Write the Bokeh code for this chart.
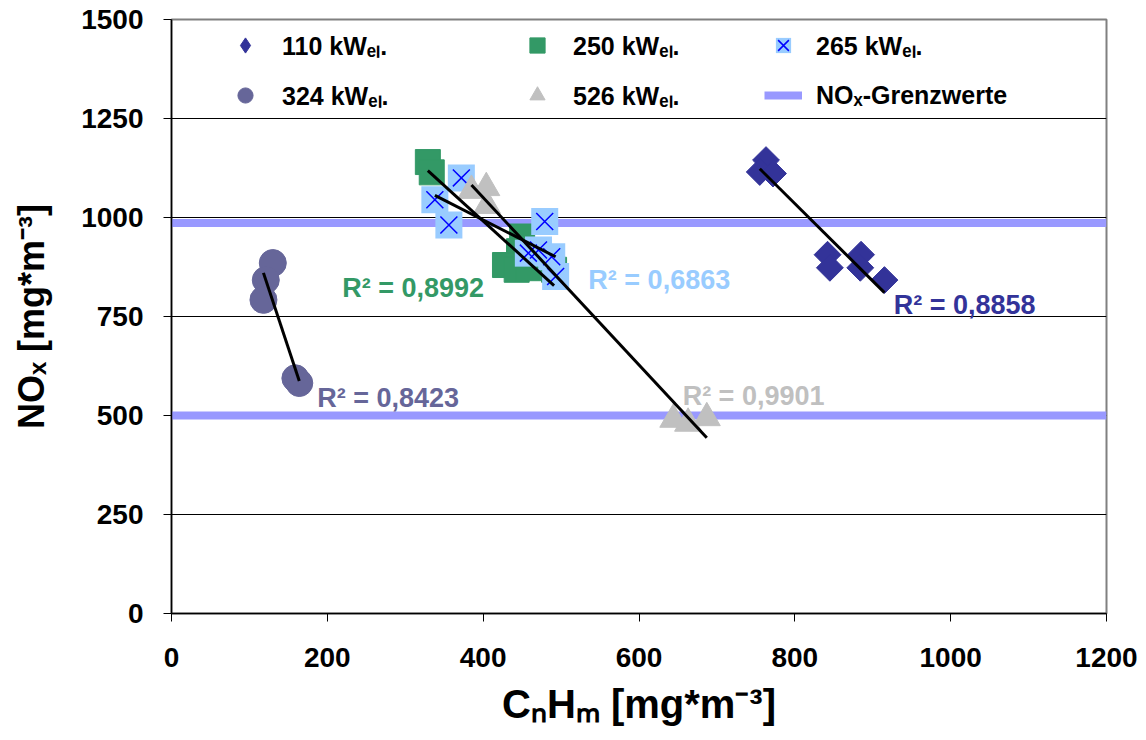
import numpy as np
from bokeh.plotting import figure
from bokeh.models import Legend, LegendItem, Label, Range1d, FixedTicker
from bokeh.embed import file_html
from bokeh.resources import INLINE

# ---------------- data ----------------
x_110 = [763, 755, 772, 842, 845, 885, 884, 915]
y_110 = [1145, 1115, 1111, 906, 873, 906, 873, 842]

x_250 = [329, 334, 450, 446, 428, 443, 458, 491]
y_250 = [1140, 1114, 952, 915, 880, 868, 872, 868]

x_265 = [372, 338, 356, 479, 471, 488, 493, 458]
y_265 = [1100, 1045, 981, 990, 918, 901, 851, 910]

x_324 = [130, 121, 118, 159, 164]
y_324 = [885, 842, 792, 594, 582]

x_526 = [385, 404, 405, 644, 663, 687]
y_526 = [1068, 1075, 1030, 490, 480, 494]

limits = [986, 500]

series_names = ["110 kWₑₗ.", "250 kWₑₗ.", "265 kWₑₗ.", "324 kWₑₗ.", "526 kWₑₗ."]
limit_name = "NOₓ-Grenzwerte"
r2_110, r2_250, r2_265, r2_324, r2_526 = "0,8858", "0,8992", "0,6863", "0,8423", "0,9901"

x_ticks = [0, 200, 400, 600, 800, 1000, 1200]
y_ticks = [0, 250, 500, 750, 1000, 1250, 1500]
x_title = "CₙHₘ [mg*m⁻³]"
y_title = "NOₓ [mg*m⁻³]"

# ---------------- style ----------------
FONT = "Liberation Sans"
C110, C250, C265F, C265X, C324, C526 = "#333399", "#339966", "#99CCFF", "#0000FF", "#666699", "#C0C0C0"
CLIM = "#9999FF"

p = figure(width=1140, height=738, output_backend="svg", toolbar_location=None,
           x_range=Range1d(x_ticks[0], x_ticks[-1]), y_range=Range1d(y_ticks[0], y_ticks[-1]),
           min_border_left=171, min_border_top=19, min_border_right=34, min_border_bottom=125)
p.background_fill_color = "white"
p.border_fill_color = "white"
p.outline_line_color = "#808080"
p.outline_line_width = 2

p.xgrid.grid_line_color = None
p.ygrid.grid_line_color = "black"
p.ygrid.grid_line_width = 1
p.ygrid.ticker = FixedTicker(ticks=y_ticks)
p.xaxis.ticker = FixedTicker(ticks=x_ticks)
p.yaxis.ticker = FixedTicker(ticks=y_ticks)

for ax in (p.xaxis, p.yaxis):
    ax.axis_line_color = "black"
    ax.axis_line_width = 1.5
    ax.major_tick_line_color = "black"
    ax.major_tick_out = 8
    ax.major_tick_in = 0
    ax.minor_tick_line_color = None
    ax.major_label_text_font = FONT
    ax.major_label_text_font_style = "bold"
    ax.major_label_text_font_size = "28px"
    ax.major_label_text_color = "black"
    ax.axis_label_text_font = FONT
    ax.axis_label_text_font_style = "bold"
    ax.axis_label_text_color = "black"

p.xaxis.axis_label = x_title
p.yaxis.axis_label = y_title
p.xaxis.axis_label_text_font_size = "40px"
p.yaxis.axis_label_text_font_size = "36px"
p.xaxis.major_label_standoff = 26
p.xaxis.axis_label_standoff = 12
p.yaxis.major_label_standoff = 20
p.yaxis.axis_label_standoff = 26

# limit lines
xs0 = [x_ticks[0]] * len(limits)
xs1 = [x_ticks[-1]] * len(limits)
r_lim = p.segment(x0=xs0, x1=xs1, y0=limits, y1=limits, line_color=CLIM, line_width=8)

# markers
r110 = p.scatter(x_110, y_110, marker="square", angle=np.pi / 4, size=19,
                 fill_color=C110, line_color=C110)
r110_leg = p.scatter(x_110, y_110, marker="diamond", size=19, fill_color=C110,
                     line_color=C110, visible=False)
r250 = p.scatter(x_250, y_250, marker="square", size=25, fill_color=C250, line_color=C250)
r265a = p.scatter(x_265, y_265, marker="square", size=27, fill_color=C265F, line_color=None)
r265b = p.scatter(x_265, y_265, marker="x", size=24, line_color=C265X, line_width=1.5)
r324 = p.scatter(x_324, y_324, marker="circle", size=27, fill_color=C324, line_color=C324)
r526 = p.scatter(x_526, y_526, marker="triangle", size=27, fill_color=C526, line_color=C526)

# trend lines (least squares from the data)
for xs, ys in [(x_324, y_324), (x_250, y_250), (x_265, y_265), (x_526, y_526), (x_110, y_110)]:
    k, d = np.polyfit(xs, ys, 1)
    xe = np.array([min(xs), max(xs)], dtype=float)
    p.line(xe, k * xe + d, line_color="black", line_width=3)

# R² labels
def r2(x, y, txt, col):
    p.add_layout(Label(x=x, y=y, text="R² = " + txt, text_color=col, text_font=FONT,
                       text_font_style="bold", text_font_size="27px",
                       text_baseline="alphabetic", text_align="left"))

r2(927, 778, r2_110, C110)
r2(219, 823, r2_250, C250)
r2(535, 841, r2_265, C265F)
r2(187, 543, r2_324, C324)
r2(656, 550, r2_526, C526)

# legends (three columns)
def make_legend(items, loc, standoff):
    lg = Legend(items=items, location=loc, orientation="vertical",
                glyph_width=38, glyph_height=40, spacing=10, padding=0, margin=0,
                label_standoff=standoff, border_line_color=None,
                background_fill_alpha=0.0, inactive_fill_alpha=0.0,
                label_text_font=FONT, label_text_font_style="bold",
                label_text_font_size="25px", label_text_color="black")
    p.add_layout(lg)

make_legend([LegendItem(label=series_names[0], renderers=[r110_leg]),
             LegendItem(label=series_names[3], renderers=[r324])], (55, 498), 18)
make_legend([LegendItem(label=series_names[1], renderers=[r250]),
             LegendItem(label=series_names[4], renderers=[r526])], (347, 498), 17)
make_legend([LegendItem(label=series_names[2], renderers=[r265a, r265b]),
             LegendItem(label=limit_name, renderers=[r_lim])], (593, 498), 14)

open("out.html", "w").write(file_html(p, INLINE))
